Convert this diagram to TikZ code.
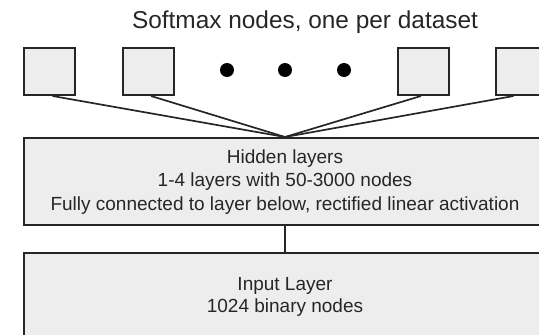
\documentclass[tikz,border=0pt]{standalone}
\usepackage{fontspec}
\setmainfont{Liberation Sans}
\begin{document}
\begin{tikzpicture}[x=1pt,y=1pt,
  boxstyle/.style={draw=black!85,line width=2pt,fill=black!7,inner sep=0pt,anchor=north west},
  softbox/.style={boxstyle,minimum width=51pt,minimum height=47pt},
  link/.style={draw=black!85,line width=1.7pt},
  dotstyle/.style={circle,fill=black,inner sep=0pt,minimum size=14pt},
  txt/.style={font=\fontsize{19}{23.5}\selectfont,align=center,text=black!85}]
\clip (0,0) rectangle (539,-335);
\node[font=\fontsize{24.4}{27}\selectfont,text=black!85] (title) at (305,-22) {Softmax nodes, one per dataset};
\node[softbox] (s1) at (23,-47) {};
\node[softbox] (s2) at (122,-47) {};
\node[softbox] (s3) at (397,-47) {};
\node[softbox] (s4) at (495,-47) {};
\node[dotstyle] (d1) at (227,-70) {};
\node[dotstyle] (d2) at (285,-70) {};
\node[dotstyle] (d3) at (344,-70) {};
\node[boxstyle,minimum width=560pt,minimum height=87pt] (hidden) at (23,-137) {};
\node[boxstyle,minimum width=560pt,minimum height=120pt] (input) at (23,-252) {};
\coordinate (conv) at (285,-137);
\coordinate (hbot) at (285,-224);
\coordinate (itop) at (285,-252);
\draw[link] ([xshift=3pt]s1.south) -- (conv);
\draw[link] ([xshift=2.5pt]s2.south) -- (conv);
\draw[link] ([xshift=-2.5pt]s3.south) -- (conv);
\draw[link] ([xshift=-8pt]s4.south) -- (conv);
\draw[link] (hbot) -- (itop);
\node[txt] (htext) at (285,-182) {Hidden layers\\1-4 layers with 50-3000 nodes\\Fully connected to layer below, rectified linear activation};
\node[txt,font=\fontsize{19}{22}\selectfont] (itext) at (285,-296.5) {Input Layer\\1024 binary nodes};
\end{tikzpicture}
\end{document}
